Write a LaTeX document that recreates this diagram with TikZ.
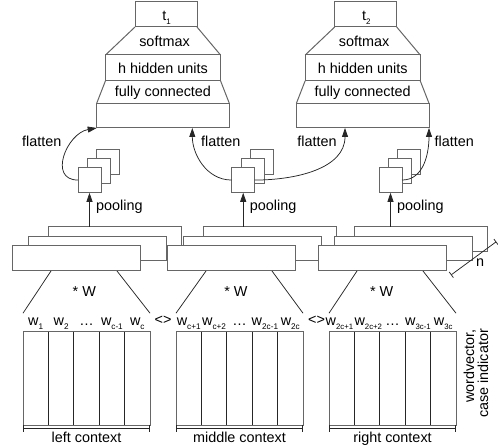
\documentclass[tikz,border=0pt]{standalone}
\usepackage{fontspec}
\setmainfont{Liberation Sans}
\usetikzlibrary{arrows.meta,calc}
\newcommand\mywl[1]{w\raisebox{-4.5pt}{\fontsize{8.2}{9}\selectfont #1}}
\newcommand\mywlr[1]{w\raisebox{-4.5pt}{\fontsize{7.8}{9}\selectfont #1}}
\begin{document}
\begin{tikzpicture}[x=1pt,y=1pt,
  txt/.style={font=\fontsize{14.4}{16}\selectfont, inner sep=0pt, outer sep=0pt},
  box/.style={draw=black!60, line width=1pt, fill=white, inner sep=0pt, outer sep=0pt},
  edgeline/.style={draw=black!60, line width=1pt},
  conn/.style={draw=black!85, line width=0.75pt},
  arr/.style={conn, -{Triangle[length=9pt,width=6pt]}},
  dimline/.style={conn, {Bar[width=7pt]}-{Bar[width=7pt]}},
]
\useasboundingbox (0,0) rectangle (498,-446);
% ---------- output towers
\foreach \cx/\tn/\tk in {163/1/a,362.7/2/b}{
  \node[box, minimum width=62pt, minimum height=25.3pt, anchor=north] (t\tk) at (\cx+3,-1.7) {};
  \node[box, minimum width=115pt, minimum height=25.7pt, anchor=north] (hid\tk) at (\cx,-55) {};
  \node[box, minimum width=132.6pt, minimum height=24.7pt, anchor=north] (fc\tk) at (\cx,-103.3) {};
  \draw[edgeline] (t\tk.south west) -- (hid\tk.north west) (t\tk.south east) -- (hid\tk.north east);
  \draw[edgeline] (hid\tk.south west) -- (fc\tk.north west) (hid\tk.south east) -- (fc\tk.north east);
  \node[txt, anchor=base] (tlab\tk) at (\cx+3.7,-20.7) {t\raisebox{-3.5pt}{\fontsize{8}{8}\selectfont\tn}};
  \node[txt, anchor=base] (smx\tk) at (\cx+1.5,-47) {softmax};
  \node[txt, anchor=base] (hlab\tk) at (\cx,-74) {h hidden units};
  \node[txt, anchor=base] (fcl\tk) at (\cx,-97) {fully connected};
}
% ---------- stacked convolution layers
\foreach \xo/\g in {12/a,167/b,318/c}{
  \node[box, minimum width=133pt, minimum height=25pt, anchor=north west] (back\g) at (\xo+36,-227) {};
  \node[box, minimum width=138pt, minimum height=24pt, anchor=north west] (mid\g) at (\xo+16,-237) {};
  \node[box, minimum width=128pt, minimum height=25pt, anchor=north west] (front\g) at (\xo,-246) {};
}
% ---------- pooled feature maps
\foreach \sx/\g in {78/a,231.7/b,379/c}{
  \node[box, minimum width=23pt, minimum height=25.5pt, anchor=north west] (sqb\g) at (\sx+18.6,-149.3) {};
  \node[box, minimum width=23pt, minimum height=25.5pt, anchor=north west] (sqm\g) at (\sx+9.3,-158.3) {};
  \node[box, minimum width=23pt, minimum height=25.5pt, anchor=north west] (sqf\g) at (\sx,-167.3) {};
  \draw[arr] (sqf\g.south |- back\g.north) -- (sqf\g.south);
  \node[txt, anchor=base west] (pool\g) at ($(sqf\g.south)+(6.7,-18.2)$) {pooling};
}
% ---------- flatten connectors
\draw[arr] (sqfa.west) to[out=180,in=190,looseness=1.4] (fca.south west);
\draw[arr] (sqfb.west) to[out=180,in=-90] ($(fca.south)+(29.3,0)$);
\draw[arr] (sqfb.east) to[out=0,in=-90] ($(fcb.south)+(-17.7,0)$);
\draw[arr] (sqfc.east) to[out=0,in=-90] (fcb.south east);
\node[txt, anchor=base] (fla) at (41.8,-147) {flatten};
\node[txt, anchor=base] (flb) at (220.8,-147) {flatten};
\node[txt, anchor=base] (flc) at (317,-147) {flatten};
\node[txt, anchor=base] (fld) at (454.3,-147) {flatten};
% ---------- n dimension
\coordinate (na) at (451,-275);
\coordinate (nb) at (496.3,-241.7);
\draw[dimline] (na) -- (nb);
\node[txt, anchor=base] (nlab) at (480,-266.7) {n};
% ---------- word blocks
\foreach \bx/\g in {23/a,176/b,329/c}{
  \node[box, minimum width=127pt, minimum height=93.3pt, anchor=north west] (blk\g) at (\bx,-331.7) {};
  \foreach \i in {1,...,4}
    \draw[conn] ($(blk\g.north west)!\i/5!(blk\g.north east)$) -- ($(blk\g.south west)!\i/5!(blk\g.south east)$);
  \draw[dimline] ($(blk\g.south west)+(0,-3.3)$) -- ($(blk\g.south east)+(0,-3.3)$);
  \draw[conn] ($(front\g.south west)+(39,0)$) -- ($(blk\g.north west)+(0,18.5)$);
  \draw[conn] ($(front\g.south west)+(105,0)$) -- ($(blk\g.north east)+(0,18.5)$);
}
\node[txt, anchor=base] (ctxa) at ($(blka.south)+(0,-17.5)$) {left context};
\node[txt, anchor=base] (ctxb) at ($(blkb.south)+(0,-17.5)$) {middle context};
\node[txt, anchor=base] (ctxc) at ($(blkc.south)+(0,-17.5)$) {right context};
\node[txt, anchor=base] (wa) at (84.3,-297) {* W};
\node[txt, anchor=base] (wb) at (236,-297) {* W};
\node[txt, anchor=base] (wc) at (381.7,-297) {* W};
\foreach \lab [count=\i] in {{\mywl{1}},{\mywl{2}},{…},{\mywl{c-1}},{\mywl{c}}}
  \node[txt, anchor=base] (la\i) at ($(blka.north west)+(\i*25.4-12.7,6.2)$) {\lab};
\foreach \lab [count=\i] in {{\mywl{c+1}},{\mywl{c+2}},{…},{\mywl{2c-1}},{\mywl{2c}}}
  \node[txt, anchor=base] (lb\i) at ($(blkb.north west)+(\i*25.4-12.7,6.2)$) {\lab};
\foreach \lab/\dx [count=\i] in {{\mywlr{2c+1}}/-2.2,{\mywlr{2c+2}}/1.2,{…}/0,{\mywlr{3c-1}}/0,{\mywlr{3c}}/0}
  \node[txt, anchor=base] (lc\i) at ($(blkc.north west)+(\i*25.4-12.7+\dx,6.2)$) {\lab};
\node[txt, anchor=base] (neqa) at (163,-325) {<>};
\node[txt, anchor=base] (neqb) at (316.5,-325) {<>};
\node[txt, rotate=90, anchor=base east] (wv1) at (474,-329) {wordvector,};
\node[txt, rotate=90, anchor=base east] (wv2) at (488,-329) {case indicator};
\end{tikzpicture}
\end{document}
